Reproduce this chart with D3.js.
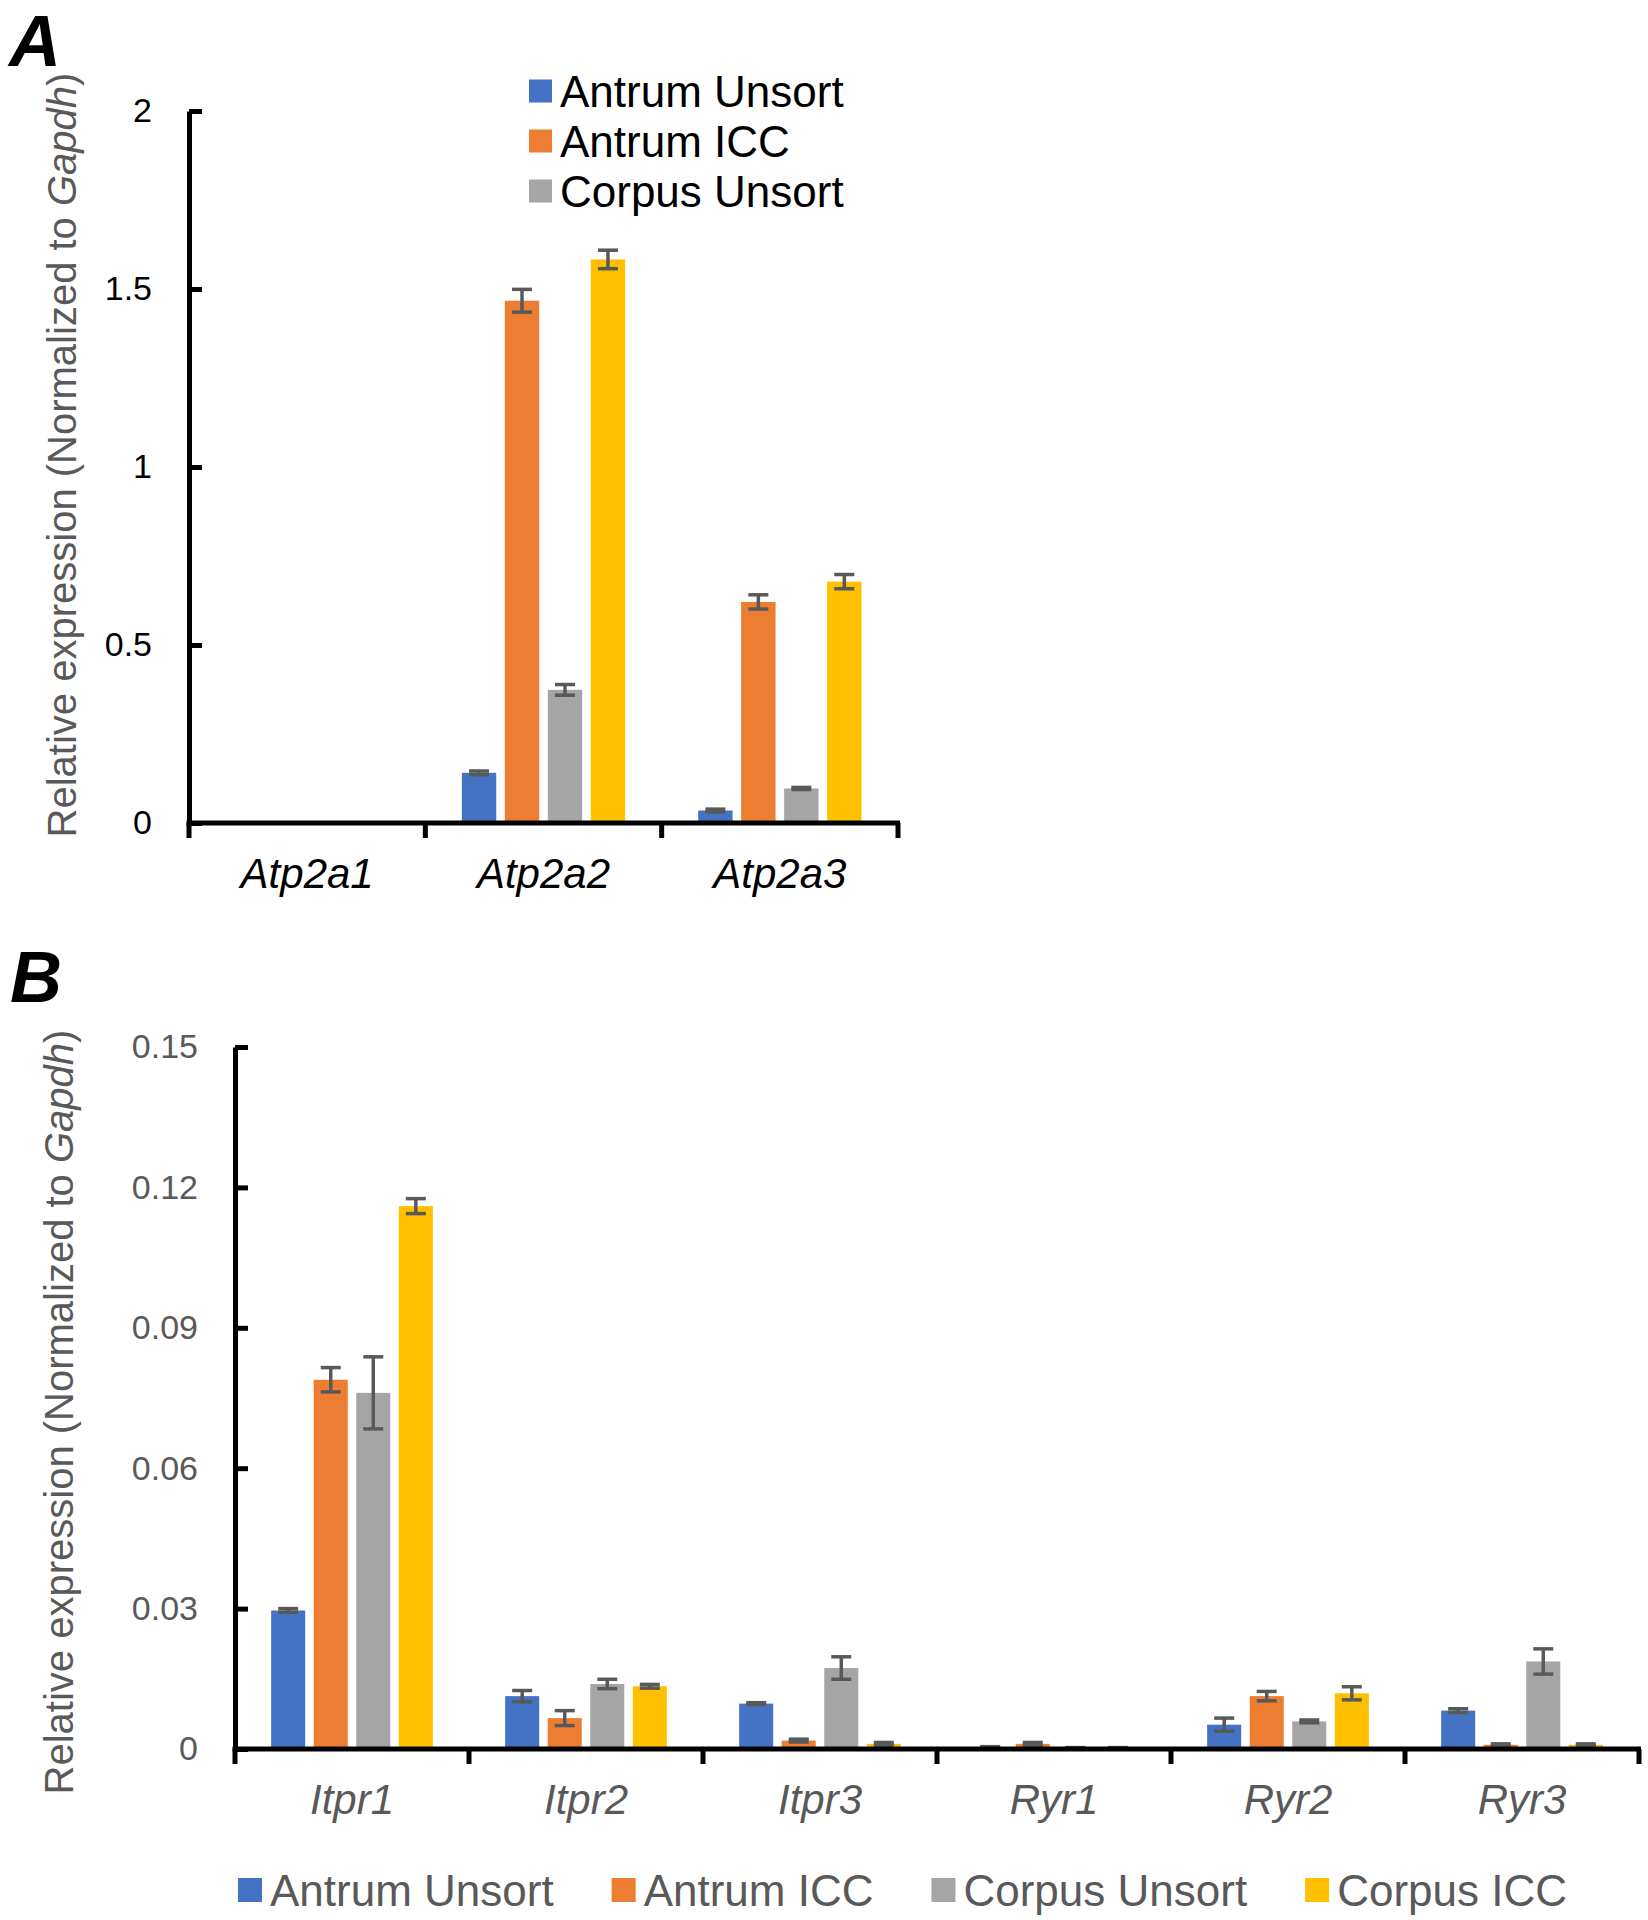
<!DOCTYPE html>
<html>
<head>
<meta charset="utf-8">
<script src="https://cdn.jsdelivr.net/npm/d3@7"></script>
<style>
  html, body { margin: 0; padding: 0; background: #fff; }
  svg { display: block; font-family: "Liberation Sans", Arial, sans-serif; }
</style>
</head>
<body>
<svg id="chart" width="1648" height="1920"></svg>
<script>
// ---------- data ----------
const seriesNames = ["Antrum Unsort", "Antrum ICC", "Corpus Unsort", "Corpus ICC"];
const seriesColors = ["#4472C4", "#ED7D31", "#A5A5A5", "#FFC000"];

// Panel A
const genesA = ["Atp2a1", "Atp2a2", "Atp2a3"];
const antrumUnsortA = [0, 0.141, 0.035];
const antrumIccA    = [0, 1.467, 0.621];
const corpusUnsortA = [0, 0.374, 0.097];
const corpusIccA    = [0, 1.583, 0.678];
const antrumUnsortErrA = [0, 0.005, 0.004];
const antrumIccErrA    = [0, 0.032, 0.020];
const corpusUnsortErrA = [0, 0.015, 0.003];
const corpusIccErrA    = [0, 0.026, 0.020];
const ticksA = [0, 0.5, 1, 1.5, 2];
const tickLabelsA = ["0", "0.5", "1", "1.5", "2"];

// Panel B
const genesB = ["Itpr1", "Itpr2", "Itpr3", "Ryr1", "Ryr2", "Ryr3"];
const antrumUnsortB = [0.0296, 0.0113, 0.0097, 0.0004, 0.0052, 0.0082];
const antrumIccB    = [0.0789, 0.0066, 0.0018, 0.0011, 0.0113, 0.0009];
const corpusUnsortB = [0.0761, 0.0139, 0.0173, 0.0002, 0.0059, 0.0187];
const corpusIccB    = [0.1160, 0.0134, 0.0011, 0.0002, 0.0119, 0.0009];
const antrumUnsortErrB = [0.0004, 0.0012, 0.0002, 0.0001, 0.0014, 0.0004];
const antrumIccErrB    = [0.0026, 0.0016, 0.0003, 0.0003, 0.0010, 0.0002];
const corpusUnsortErrB = [0.0077, 0.0010, 0.0024, 0.0001, 0.0003, 0.0027];
const corpusIccErrB    = [0.0016, 0.0004, 0.0003, 0.0001, 0.0014, 0.0002];
const ticksB = [0, 0.03, 0.06, 0.09, 0.12, 0.15];
const tickLabelsB = ["0", "0.03", "0.06", "0.09", "0.12", "0.15"];

const yTitleMain = "Relative expression (Normalized to ";
const yTitleItalic = "Gapdh";
const yTitleEnd = ")";

// ---------- drawing ----------
const svg = d3.select("#chart");
svg.append("rect").attr("width", 1648).attr("height", 1920).attr("fill", "#fff");

function drawPanel(opt) {
  const g = svg.append("g");
  const x0 = d3.scaleBand().domain(opt.genes).range(opt.xRange).padding(0);
  const x1 = d3.scaleBand().domain(seriesNames).range([0, x0.bandwidth()])
    .paddingInner(0.2).paddingOuter(0.85);
  const y = d3.scaleLinear().domain(opt.yDomain).range(opt.yRange);
  const color = d3.scaleOrdinal().domain(seriesNames).range(seriesColors);

  const rows = [];
  opt.genes.forEach((gene, i) => {
    seriesNames.forEach((s, j) => {
      rows.push({gene, series: s, value: opt.values[j][i], err: opt.errors[j][i]});
    });
  });

  // bars
  g.append("g").selectAll("rect").data(rows.filter(d => d.value > 0)).join("rect")
    .attr("x", d => x0(d.gene) + x1(d.series))
    .attr("width", x1.bandwidth())
    .attr("y", d => y(d.value))
    .attr("height", d => y(0) - y(d.value))
    .attr("fill", d => color(d.series));

  // error bars
  const eb = g.append("g").attr("stroke", "#595959").attr("stroke-width", 3.5).attr("fill", "none");
  const capHalf = 10;
  rows.filter(d => d.value > 0).forEach(d => {
    const cx = x0(d.gene) + x1(d.series) + x1.bandwidth() / 2;
    const y1 = y(d.value + d.err), y2 = y(Math.max(0, d.value - d.err));
    eb.append("line").attr("x1", cx).attr("x2", cx).attr("y1", y1).attr("y2", y2);
    eb.append("line").attr("x1", cx - capHalf).attr("x2", cx + capHalf).attr("y1", y1).attr("y2", y1);
    eb.append("line").attr("x1", cx - capHalf).attr("x2", cx + capHalf).attr("y1", y2).attr("y2", y2);
  });

  // y axis
  const axisX = opt.xRange[0];
  const yAxis = d3.axisLeft(y).tickValues(opt.ticks)
    .tickFormat((d, i) => opt.tickLabels[i])
    .tickSizeInner(-13).tickSizeOuter(0).tickPadding(37);
  const ya = g.append("g").attr("transform", `translate(${axisX},0)`).call(yAxis);
  ya.select(".domain").attr("stroke", "#000").attr("stroke-width", 5);
  ya.selectAll(".tick line").attr("stroke", "#000").attr("stroke-width", 5);
  ya.selectAll(".tick text").attr("font-size", 34).attr("fill", opt.textColor)
    .attr("font-family", "'Liberation Sans', Arial, sans-serif");

  // x axis: labels at category centres
  const xAxis = d3.axisBottom(x0).tickSize(0).tickPadding(0);
  const xa = g.append("g").attr("transform", `translate(0,${y(0)})`).call(xAxis);
  xa.select(".domain").remove();
  xa.selectAll(".tick text")
    .attr("y", 65).attr("dy", 0)
    .attr("font-size", 42).attr("font-style", "italic")
    .attr("fill", opt.textColor)
    .attr("font-family", "'Liberation Sans', Arial, sans-serif");
  // axis line + boundary ticks
  const bounds = opt.genes.map(gname => x0(gname)).concat([opt.xRange[1]]);
  g.append("line").attr("x1", opt.xRange[0] - 2.5).attr("x2", opt.xRange[1] + 2)
    .attr("y1", y(0)).attr("y2", y(0)).attr("stroke", "#000").attr("stroke-width", 5);
  g.append("g").selectAll("line").data(bounds).join("line")
    .attr("x1", d => d).attr("x2", d => d)
    .attr("y1", y(0)).attr("y2", y(0) + 15)
    .attr("stroke", "#000").attr("stroke-width", 5);

  // y title
  const t = g.append("text")
    .attr("transform", `translate(${opt.titleX},${opt.titleY}) rotate(-90)`)
    .attr("text-anchor", "middle")
    .attr("font-size", 40).attr("fill", "#595959");
  t.append("tspan").text(yTitleMain);
  t.append("tspan").attr("font-style", "italic").text(yTitleItalic);
  t.append("tspan").text(yTitleEnd);

  // panel letter
  svg.append("text").attr("x", opt.letterX).attr("y", opt.letterY)
    .attr("font-size", 72).attr("font-weight", "bold").attr("font-style", "italic")
    .attr("fill", "#000").text(opt.letter);

  return {color};
}

drawPanel({
  genes: genesA,
  values: [antrumUnsortA, antrumIccA, corpusUnsortA, corpusIccA],
  errors: [antrumUnsortErrA, antrumIccErrA, corpusUnsortErrA, corpusIccErrA],
  xRange: [189, 898], yDomain: [0, 2], yRange: [823, 111],
  ticks: ticksA, tickLabels: tickLabelsA, textColor: "#000",
  titleX: 76, titleY: 455, letter: "A", letterX: 9, letterY: 66
});

drawPanel({
  genes: genesB,
  values: [antrumUnsortB, antrumIccB, corpusUnsortB, corpusIccB],
  errors: [antrumUnsortErrB, antrumIccErrB, corpusUnsortErrB, corpusIccErrB],
  xRange: [235, 1639], yDomain: [0, 0.15], yRange: [1749, 1047],
  ticks: ticksB, tickLabels: tickLabelsB, textColor: "#595959",
  titleX: 73, titleY: 1412, letter: "B", letterX: 10, letterY: 1002
});

// Legend A (vertical, first three series)
const legA = svg.append("g");
seriesNames.slice(0, 3).forEach((s, i) => {
  const cy = 91 + i * 50;
  legA.append("rect").attr("x", 529).attr("y", cy - 11.5).attr("width", 23).attr("height", 23)
    .attr("fill", seriesColors[i]);
  legA.append("text").attr("x", 560).attr("y", cy).attr("dy", "0.36em")
    .attr("font-size", 44).attr("fill", "#000").text(s);
});

// Legend B (horizontal)
const legB = svg.append("g");
let lx = 238;
seriesNames.forEach((s, i) => {
  const cy = 1890;
  legB.append("rect").attr("x", lx).attr("y", cy - 12).attr("width", 24).attr("height", 24)
    .attr("fill", seriesColors[i]);
  const tx = legB.append("text").attr("x", lx + 32).attr("y", cy).attr("dy", "0.36em")
    .attr("font-size", 44).attr("fill", "#595959").text(s);
  lx = lx + 32 + tx.node().getComputedTextLength() + 58;
});
</script>
</body>
</html>
